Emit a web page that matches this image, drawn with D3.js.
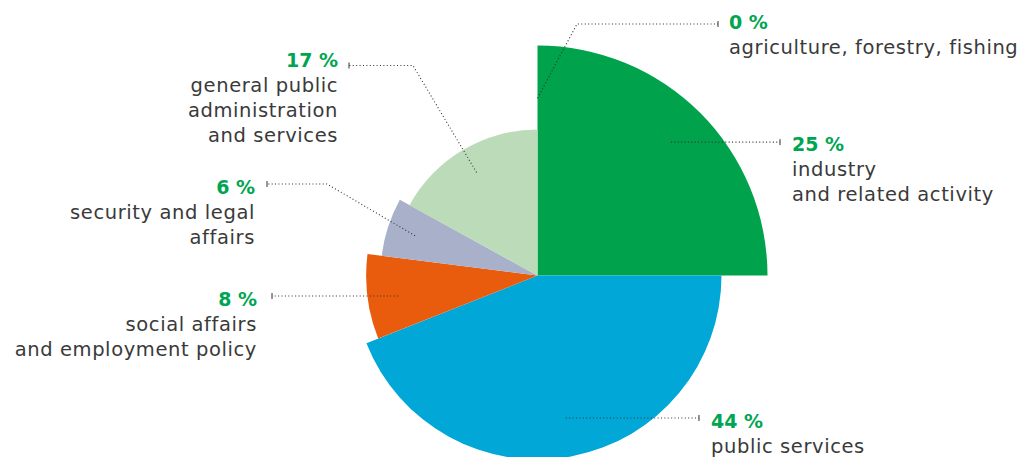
<!DOCTYPE html>
<html>
<head>
<meta charset="utf-8">
<script src="https://cdn.jsdelivr.net/npm/d3@7"></script>
<style>
  body { margin: 0; background: #fff; }
  svg { display: block; }
  text { font-family: "DejaVu Sans", sans-serif; }
</style>
</head>
<body>
<div id="chart"></div>
<script>
var width = 1017,
    height = 457;

// data
var categories = ["agriculture, forestry, fishing", "industry\nand related activity", "public services",
  "social affairs\nand employment policy", "security and legal\naffairs", "general public\nadministration\nand services"];
var shares = [0, 25, 44, 8, 6, 17];
var radiusValues = [94, 100, 80, 74.5, 68.3, 63.5];
var colors = ["#00a24c", "#00a24c", "#00a7d7", "#e95c0e", "#a8b0ca", "#bcdbb9"];

// label layout
var labelLayout = [
  {side: "right", x: 729, y: 29, lineY: 24, tickX: 718, elbowX: 577},
  {side: "right", x: 792, y: 151, lineY: null, tickX: 780},
  {side: "right", x: 711, y: 427.5, lineY: 418, tickX: 699},
  {side: "left", x: 257, y: 305.5, lineY: 296, tickX: 272},
  {side: "left", x: 255, y: 194, lineY: 184, tickX: 267, elbowX: 327},
  {side: "left", x: 338, y: 66.5, lineY: 65.5, tickX: 349, elbowX: 413}
];

var cx = 537.5, cy = 275.5;

var r = d3.scaleLinear().domain([0, 100]).range([0, 230]);

var pie = d3.pie().sort(null).value(function(d) { return d; });
var arcs = pie(shares);

var arc = d3.arc()
  .innerRadius(0)
  .outerRadius(function(d) { return r(radiusValues[d.index]); });

var svg = d3.select("#chart").append("svg")
  .attr("width", width)
  .attr("height", height);

var g = svg.append("g")
  .attr("transform", "translate(" + cx + "," + cy + ")");

g.selectAll("path.slice")
  .data(arcs)
  .enter().append("path")
  .attr("class", "slice")
  .attr("fill", function(d, i) { return colors[i]; })
  .attr("d", arc);

// leader lines
var anchor = function(d) {
  var rr = r(radiusValues[d.index]) * 0.82;
  return d3.arc().innerRadius(rr).outerRadius(rr).centroid(d);
};

arcs.forEach(function(d, i) {
  var L = labelLayout[i];
  var a = anchor(d);
  var ax = a[0] + cx, ay = a[1] + cy;
  var ly = L.lineY == null ? ay : L.lineY;
  // straight leaders stay horizontal
  if (L.elbowX == null) ay = ly;
  var pts = [[ax, ay]];
  if (L.elbowX != null) pts.push([L.elbowX, ly]);
  pts.push([L.tickX, ly]);

  svg.append("path")
    .attr("d", d3.line()(pts))
    .attr("fill", "none")
    .attr("stroke", "#333")
    .attr("stroke-width", 1.1)
    .attr("stroke-dasharray", "1,2.4");

  svg.append("line")
    .attr("x1", L.tickX).attr("x2", L.tickX)
    .attr("y1", ly - 3).attr("y2", ly + 3)
    .attr("stroke", "#333")
    .attr("stroke-width", 1);

  var anchorText = L.side == "right" ? "start" : "end";
  var t = svg.append("text")
    .attr("text-anchor", anchorText)
    .attr("x", L.x)
    .attr("y", L.y)
    .style("font-size", "19.5px");

  t.append("tspan")
    .attr("x", L.x)
    .style("font-weight", "bold")
    .style("font-size", "19px")
    .style("fill", "#00a551")
    .text(shares[i] + " %");

  categories[i].split("\n").forEach(function(line) {
    t.append("tspan")
      .attr("x", L.x)
      .attr("dy", 25)
      .style("fill", "#3a3a3a")
      .style("letter-spacing", "0.6px")
      .text(line);
  });
});
</script>
</body>
</html>
